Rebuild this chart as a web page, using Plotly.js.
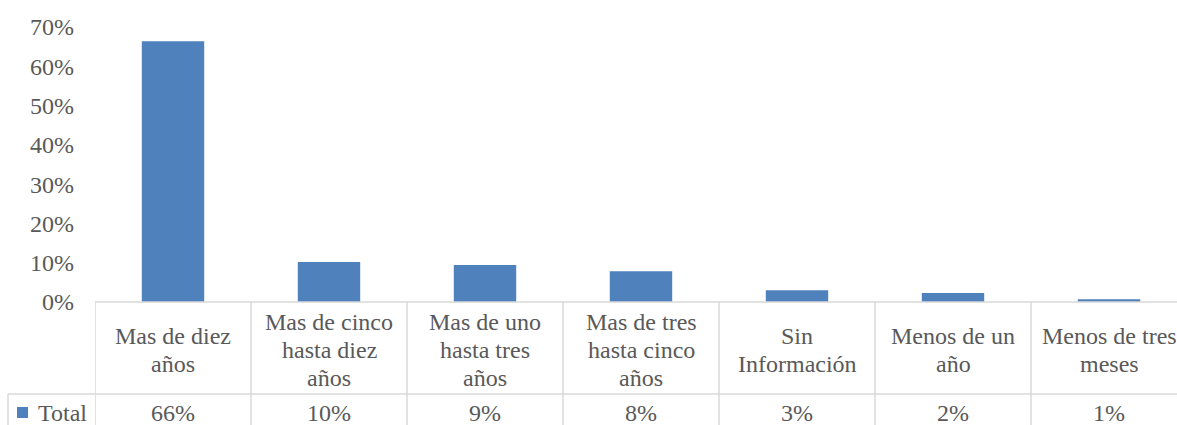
<!DOCTYPE html>
<html>
<head>
<meta charset="utf-8">
<script src="https://cdn.plot.ly/plotly-3.0.1.min.js"></script>
<style>
html, body { margin: 0; padding: 0; overflow: hidden; background: #fff; }
#chart { width: 1200px; height: 425px; }
</style>
</head>
<body>
<div id="chart"></div>
<script>
// ---- data ----
const categories = [
  "Mas de diez<br>años",
  "Mas de cinco<br>hasta diez<br>años",
  "Mas de uno<br>hasta tres<br>años",
  "Mas de tres<br>hasta cinco<br>años",
  "Sin<br>Información",
  "Menos de un<br>año",
  "Menos de tres<br>meses"
];
const totals = [0.664, 0.102, 0.094, 0.078, 0.030, 0.023, 0.007];
const seriesName = "Total";
const yTickVals = [0, 0.1, 0.2, 0.3, 0.4, 0.5, 0.6, 0.7];
const yTickText = ["0%", "10%", "20%", "30%", "40%", "50%", "60%", "70%"];

// ---- style ----
const barColor = "#4F81BD";
const textColor = "#595959";
const gridColor = "#D9D9D9";
const fontFam = "Liberation Serif, Times New Roman, serif";
const fontSize = 24;

const W = 1200, H = 425;
const mL = 95, mR = 13, mT = 27, mB = 123;
const plotH = H - mT - mB;  // 275
const xIdx = categories.map((c, i) => i);

const rowSplitPx = 92;      // category row height below the axis
const lineStep = 28;        // line spacing for category text
const tableLeftPx = 87;     // distance left of the plot for the Total header

const shapes = [];
const annotations = [];
const lineStyle = { color: gridColor, width: 1.5 };

// horizontal table lines
shapes.push({ type: "line", xref: "x", yref: "paper", x0: -0.5, x1: categories.length - 0.5, y0: 0, y1: 0, line: lineStyle });
shapes.push({ type: "line", xref: "paper", yref: "paper", x0: -tableLeftPx / (W - mL - mR), x1: 1, y0: -rowSplitPx / plotH, y1: -rowSplitPx / plotH, line: lineStyle });
// vertical table lines
for (let i = 0; i <= categories.length; i++) {
  shapes.push({ type: "line", xref: "x", yref: "paper", x0: i - 0.5, x1: i - 0.5, y0: 0, y1: -(mB + 5) / plotH, line: lineStyle });
}
shapes.push({ type: "line", xref: "paper", yref: "paper", x0: -tableLeftPx / (W - mL - mR), x1: -tableLeftPx / (W - mL - mR), y0: -rowSplitPx / plotH, y1: -(mB + 5) / plotH, line: lineStyle });

// legend key square
const keyX0 = -(tableLeftPx - 9) / (W - mL - mR);
const keyX1 = -(tableLeftPx - 20) / (W - mL - mR);
shapes.push({ type: "rect", xref: "paper", yref: "paper", x0: keyX0, x1: keyX1, y0: -(rowSplitPx + 13) / plotH, y1: -(rowSplitPx + 24) / plotH, fillcolor: barColor, line: { width: 0 } });

// category labels
categories.forEach((c, i) => {
  const lines = c.split("<br>");
  const n = lines.length;
  lines.forEach((ln, k) => {
    const centerPx = rowSplitPx / 2 + 2 + (k - (n - 1) / 2) * lineStep;
    annotations.push({
      xref: "x", yref: "paper", x: i, y: 0, yshift: -centerPx,
      text: ln, showarrow: false, xanchor: "center", yanchor: "middle",
      font: { family: fontFam, size: fontSize, color: textColor }
    });
  });
});
// series row
annotations.push({
  xref: "paper", yref: "paper", x: -(tableLeftPx - 28) / (W - mL - mR), y: -rowSplitPx / plotH, yshift: -19,
  text: seriesName, showarrow: false, xanchor: "left", yanchor: "middle",
  font: { family: fontFam, size: fontSize, color: textColor }
});
totals.forEach((v, i) => {
  annotations.push({
    xref: "x", yref: "paper", x: i, y: -rowSplitPx / plotH, yshift: -19,
    text: Math.round(v * 100) + "%", showarrow: false, xanchor: "center", yanchor: "middle",
    font: { family: fontFam, size: fontSize, color: textColor }
  });
});

const trace = {
  type: "bar", x: xIdx, y: totals, name: seriesName,
  marker: { color: barColor, line: { width: 0 } },
  hoverinfo: "skip"
};

const layout = {
  width: W, height: H,
  margin: { l: mL, r: mR, t: mT, b: mB, pad: 0 },
  paper_bgcolor: "#fff", plot_bgcolor: "#fff",
  showlegend: false,
  bargap: 0.6,
  xaxis: { range: [-0.5, categories.length - 0.5], showticklabels: false, showgrid: false, zeroline: false, showline: false, ticks: "", fixedrange: true },
  yaxis: {
    range: [0, 0.7], tickvals: yTickVals, ticktext: yTickText,
    showgrid: false, zeroline: false, showline: false, ticks: "",
    ticklabelstandoff: 20,
    tickfont: { family: fontFam, size: fontSize, color: textColor }, fixedrange: true
  },
  shapes: shapes,
  annotations: annotations
};

Plotly.newPlot("chart", [trace], layout, { displayModeBar: false, staticPlot: true });
</script>
</body>
</html>
